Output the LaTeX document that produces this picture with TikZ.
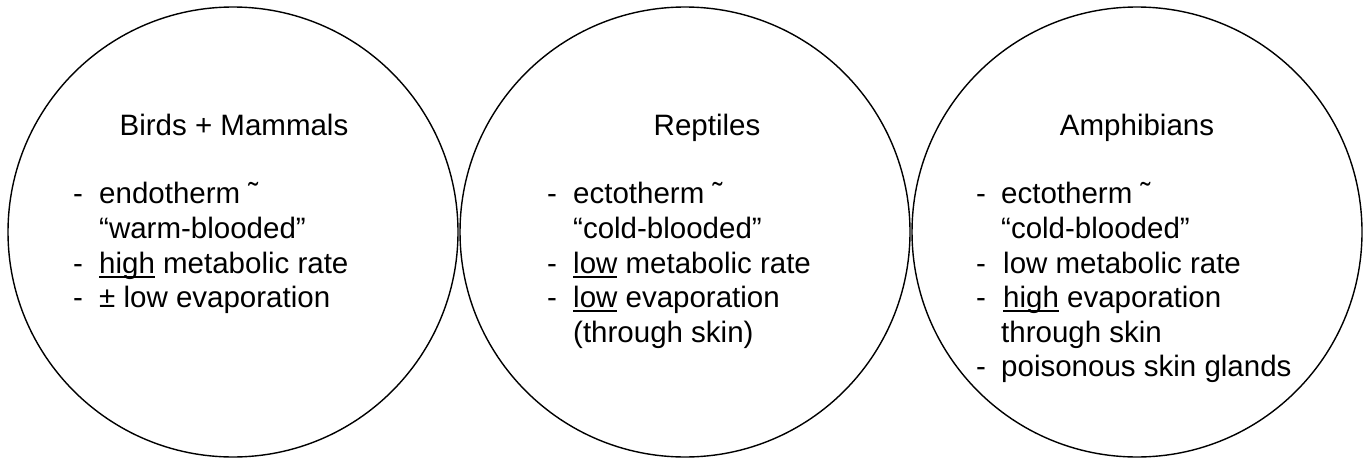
\documentclass[tikz,border=0pt]{standalone}
\usepackage{fontspec}
\setmainfont{Liberation Sans}
\newcommand\ulx[1]{\setbox0\hbox{#1}\rlap{\rule[-5pt]{\wd0}{2pt}}\box0\relax}
\begin{document}
\begin{tikzpicture}[x=1pt,y=1pt,
  ring/.style={draw=black,line width=1.4pt,circle,minimum size=450pt,inner sep=0pt},
  title/.style={anchor=base,inner sep=0pt,font=\fontsize{29.5}{35}\selectfont},
  txt/.style={anchor=base west,inner sep=0pt,font=\fontsize{29.5}{35}\selectfont}]
\useasboundingbox (0,0) rectangle (1364,459);
\node[ring] (c1) at (233,227) {};
\node[ring] (c2) at (685,227) {};
\node[ring] (c3) at (1137,227) {};
% circle 1
\node[title] (t1) at (234,324) {Birds + Mammals};
\node[txt] (d11) at (73,256) {-};
\node[txt] (l11) at (99,256) {endotherm ˜};
\node[txt] (l12) at (99,221) {“warm-blooded”};
\node[txt] (d13) at (73,186) {-};
\node[txt] (l13) at (99,186) {\ulx{high} metabolic rate};
\node[txt] (d14) at (73,152) {-};
\node[txt] (l14) at (99,152) {± low evaporation};
% circle 2
\node[title] (t2) at (707,324) {Reptiles};
\node[txt] (d21) at (547,256) {-};
\node[txt] (l21) at (573,256) {ectotherm ˜};
\node[txt] (l22) at (573,221) {“cold-blooded”};
\node[txt] (d23) at (547,186) {-};
\node[txt] (l23) at (573,186) {\ulx{low} metabolic rate};
\node[txt] (d24) at (547,152) {-};
\node[txt] (l24) at (573,152) {\ulx{low} evaporation};
\node[txt] (l25) at (573,117) {(through skin)};
% circle 3
\node[title] (t3) at (1137,324) {Amphibians};
\node[txt] (d31) at (976,256) {-};
\node[txt] (l31) at (1001,256) {ectotherm ˜};
\node[txt] (l32) at (1001,221) {“cold-blooded”};
\node[txt] (d33) at (976,186) {-};
\node[txt] (l33) at (1003,186) {low metabolic rate};
\node[txt] (d34) at (976,152) {-};
\node[txt] (l34) at (1003,152) {\ulx{high} evaporation};
\node[txt] (l35) at (1001,117) {through skin};
\node[txt] (d36) at (976,83) {-};
\node[txt] (l36) at (1001,83) {poisonous skin glands};
\end{tikzpicture}
\end{document}
